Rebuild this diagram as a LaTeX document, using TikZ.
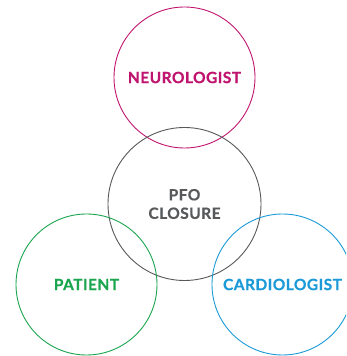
\documentclass[tikz,border=0pt]{standalone}
\usepackage{fontspec}
\newfontfamily\labelfont{Lato}[UprightFont=* Bold, LetterSpace=3, FakeBold=0.6]
\definecolor{neuro}{HTML}{C0156E}
\definecolor{pfo}{HTML}{58595B}
\definecolor{pat}{HTML}{1BA54F}
\definecolor{cardio}{HTML}{1B9AD7}
\tikzset{
  ring/.style={circle, draw, line width=0.9pt, inner sep=0pt, font=\labelfont\fontsize{15.5}{18.5}\selectfont, align=center},
}
\begin{document}
\begin{tikzpicture}[x=1pt,y=1pt]
\useasboundingbox (0,0) rectangle (346,356);
\clip (0,0) rectangle (346,356);
\node[ring, draw=neuro, text=neuro, minimum size=141pt] (neuro) at (184.5,278.5) {NEUROLOGIST};
\node[ring, draw=pfo, text=pfo, minimum size=153pt] (pfo) at (184.5,152) {PFO\\CLOSURE};
\node[ring, draw=pat, text=pat, minimum size=141pt] (pat) at (86.5,71.5) {PATIENT};
\node[ring, draw=cardio, text=cardio, minimum size=141pt] (cardio) at (282.5,71.5) {CARDIOLOGIST};
\end{tikzpicture}
\end{document}
